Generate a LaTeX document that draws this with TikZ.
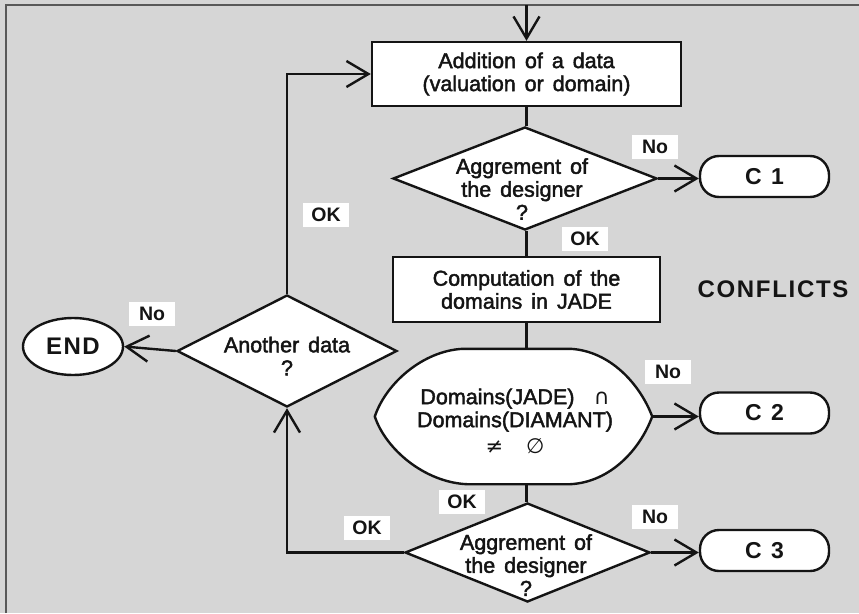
\documentclass[tikz,border=0pt]{standalone}
\usepackage{fontspec}
\setmainfont{Liberation Sans}[WordSpace=1.5]
\newfontfamily\glyphs{DejaVu Sans}
\usetikzlibrary{shapes.geometric,arrows.meta,calc}
\definecolor{paper}{gray}{0.84}
\definecolor{ink}{gray}{0.08}
\newcommand{\heavy}{\addfontfeature{FakeBold=2}}
\tikzset{
  flow/.style={line width=2.4pt, draw=ink},
  proc/.style={flow, fill=white, rectangle, inner sep=0pt, align=center,
    text=ink, font=\fontsize{21.5}{23}\selectfont\heavy},
  decision/.style={flow, fill=white, diamond, inner sep=0pt},
  terminal/.style={flow, fill=white, rectangle, rounded corners=19pt, inner sep=0pt,
    minimum width=129pt, minimum height=41pt, text=ink,
    font=\fontsize{23}{24}\selectfont\bfseries},
  body/.style={align=center, text=ink, inner sep=0pt, font=\fontsize{21.5}{23}\selectfont\heavy},
  tag/.style={fill=white, text=ink, inner sep=0pt, minimum width=46pt, minimum height=24pt,
    font=\fontsize{19.5}{21}\selectfont\bfseries},
  arr/.style={flow, -{Straight Barb[length=22pt,width=26pt]}},
}
\begin{document}
\begin{tikzpicture}[x=1pt,y=-1pt]
  \useasboundingbox (0,0) rectangle (859,613);
  \fill[paper] (0,0) rectangle (859,613);
  \draw[line width=2.5pt, draw=gray!70!black] (6,613) -- (6,5) -- (859,5);

  % main column
  \node[proc, minimum width=309pt, minimum height=64pt] (add) at (526.5,74)
    {Addition of a data\\(valuation or domain)};
  \node[decision, minimum width=264pt, minimum height=103pt] (agree1) at (525,178.5) {};
  \node[body] (agree1t) at (522,189) {Aggrement of\\the designer\\?};
  \node[proc, minimum width=267pt, minimum height=65pt] (comp) at (526.5,289.5)
    {Computation of the\\domains in JADE};

  % lens-shaped test
  \node[minimum width=277pt, minimum height=135pt, inner sep=0pt] (lens) at (513.5,416.5) {};
  \draw[flow, fill=white]
    ($(lens.north west)+(88,0)$) -- ($(lens.north east)+(-82,0)$)
    .. controls +(40,2) and +(-12,-32) .. (lens.east)
    .. controls +(-12,33) and +(40,-2) .. ($(lens.south east)+(-82,0)$)
    -- ($(lens.south west)+(92,0)$)
    .. controls +(-42,-2) and +(11,33) .. (lens.west)
    .. controls +(11,-33) and +(-40,2) .. ($(lens.north west)+(88,0)$) -- cycle;
  \node[body] (lenst) at (515,421)
    {Domains(JADE)\hspace{0.9em}{\glyphs ∩}\\Domains(DIAMANT)\\[3pt]{\glyphs\fontsize{21}{22}\selectfont ≠\hspace{1.1em}∅}};

  \node[decision, minimum width=245pt, minimum height=99pt] (agree2) at (527.5,552.5) {};
  \node[body] (agree2t) at (526,565) {Aggrement of\\the designer\\?};

  % loop-back test
  \node[decision, minimum width=220pt, minimum height=112pt] (another) at (287,351) {};
  \node[body] (anothert) at (287,356) {Another data\\?};
  \node[flow, fill=white, ellipse, minimum width=100pt, minimum height=57pt, inner sep=0pt,
    text=ink, font=\fontsize{24}{26}\selectfont\bfseries\addfontfeature{LetterSpace=6}]
    (end) at (73,346.5) {END};

  % conflict exits
  \node[terminal] (c1) at (764.5,176.5) {C 1};
  \node[terminal] (c2) at (764.5,413) {C 2};
  \node[terminal] (c3) at (764.5,550.5) {C 3};
  \node[text=ink, inner sep=0pt,
    font=\fontsize{24}{26}\selectfont\bfseries\addfontfeature{LetterSpace=7}]
    (conf) at (773,289) {CONFLICTS};

  % connectors
  \coordinate (entry) at (526.5,5);
  \draw[arr] (entry) -- (add.north);
  \draw[flow] (add.south) -- (add.south |- agree1.north);
  \draw[flow] (add.south |- agree1.south) -- (comp.north);
  \draw[flow] (comp.south) -- (comp.south |- lens.north);
  \draw[flow] (comp.south |- lens.south) -- (comp.south |- agree2.north);
  \draw[arr] (agree1.east) -- (agree1.east -| c1.west);
  \draw[arr] (lens.east) -- (lens.east -| c2.west);
  \draw[arr] (agree2.east) -- (agree2.east -| c3.west);
  \draw[arr] (agree2.west) -| (another.south);
  \draw[arr] (another.north) |- (add.west);
  \draw[arr] (another.west) -- (end.east);

  % branch labels
  \node[tag] (noc1) at (655,147) {No};
  \node[tag] (ok1) at (585,239) {OK};
  \node[tag] (noc2) at (668,372) {No};
  \node[tag] (ok2) at (462,502) {OK};
  \node[tag] (noc3) at (655,517) {No};
  \node[tag] (ok3) at (367,528) {OK};
  \node[tag] (ok4) at (326,215) {OK};
  \node[tag] (noend) at (152,314) {No};
\end{tikzpicture}
\end{document}
